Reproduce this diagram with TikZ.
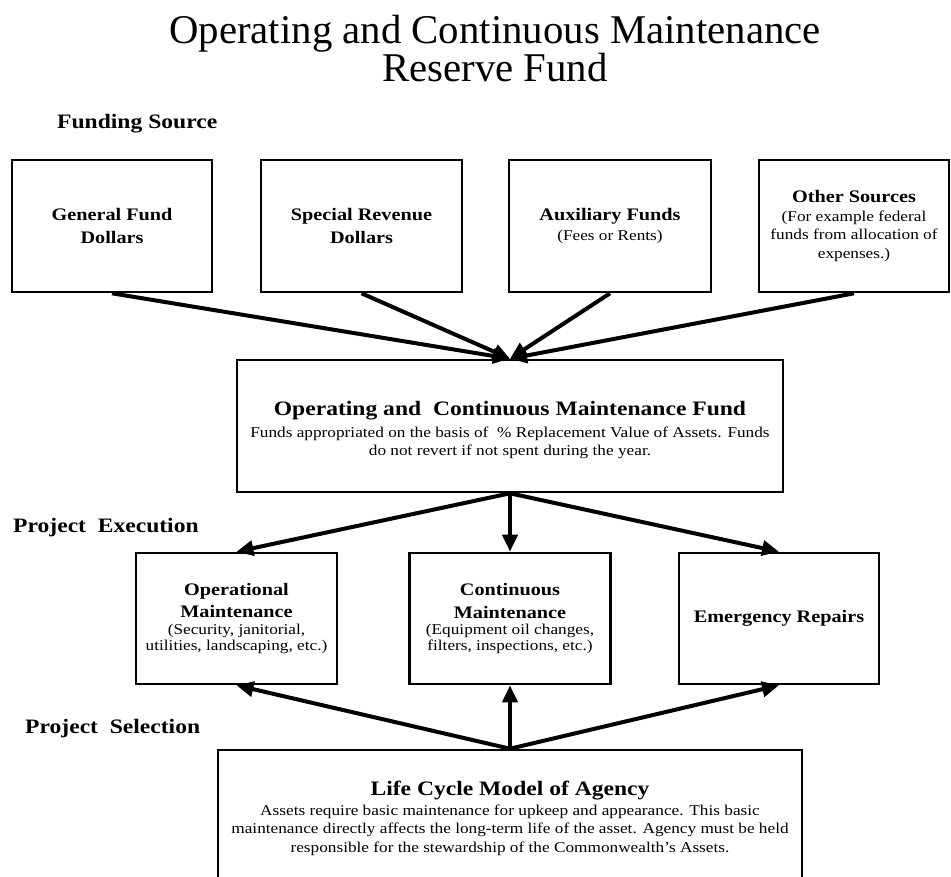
\documentclass[tikz,border=0pt]{standalone}
\usepackage{fontspec}
\setmainfont[FakeStretch=1.15]{Liberation Serif}
\newfontfamily\TitleFam{Liberation Serif}
\usetikzlibrary{arrows.meta}
\newcommand\LblF{\bfseries\fontsize{17.6}{23}\selectfont}
\newcommand\BigF{\bfseries\fontsize{20.5}{24}\selectfont}
\newcommand\BdyF{\fontsize{15}{18.5}\selectfont}
\begin{document}
\begin{tikzpicture}[x=1pt,y=-1pt,
  box/.style={draw, line width=2.6pt, align=center, inner sep=0pt, font=\BdyF},
  txt/.style={align=center, inner sep=0pt, font=\BdyF},
  arr/.style={line width=4pt, -{Triangle[length=17pt,width=15pt]}},
  sec/.style={anchor=base west, inner sep=0pt, font=\BigF},
  ttl/.style={anchor=base, inner sep=0pt, font=\TitleFam\fontsize{40.8}{40}\selectfont}]
\useasboundingbox (0,0) rectangle (951,876);
\clip (0,0) rectangle (951,876);
\fill[white] (0,0) rectangle (951,876);
% title
\node[ttl] (t1) at (495,43) {Operating and Continuous Maintenance};
\node[ttl] (t2) at (495,81) {Reserve Fund};
% section labels
\node[sec] (s1) at (57,128) {Funding Source};
\node[sec] (s2) at (13,532) {Project\ \ Execution};
\node[sec] (s3) at (25,733) {Project\ \ Selection};
% funding boxes
\node[box, minimum width=200, minimum height=132] (g1) at (112,226)
  {{\LblF General Fund}\\[4pt]{\LblF Dollars}};
\node[box, minimum width=201, minimum height=132] (g2) at (361.5,226)
  {{\LblF Special Revenue}\\[4pt]{\LblF Dollars}};
\node[box, minimum width=202, minimum height=132] (g3) at (610,226)
  {{\LblF Auxiliary Funds}\\[1pt](Fees or Rents)};
\node[box, minimum width=190, minimum height=132] (g4) at (854,226)
  {{\LblF Other Sources}\\(For example federal\\funds from allocation of\\expenses.)};
% fund
\node[box, minimum width=546, minimum height=132] (mid) at (510,426) {};
\node[txt] (midT) at ([yshift=-4pt]mid.center)
  {{\BigF Operating and\ \ Continuous Maintenance Fund}\\[3pt]
   Funds appropriated on the basis of\ \ \% Replacement Value of Assets. Funds\\
   do not revert if not spent during the year.};
% execution boxes
\node[box, minimum width=201, minimum height=131] (e1) at (236.5,618.5)
  {{\LblF Operational}\\[4pt]{\LblF Maintenance}\\[-2pt](Security, janitorial,\\[-2.5pt]utilities, landscaping, etc.)};
\node[box, minimum width=201, minimum height=131] (e2) at (510,618.5)
  {{\LblF Continuous}\\[4pt]{\LblF Maintenance}\\[-2pt](Equipment oil changes,\\[-2.5pt]filters, inspections, etc.)};
\node[box, minimum width=200, minimum height=131] (e3) at (779,618.5)
  {{\LblF Emergency Repairs}};
% life cycle
\node[box, minimum width=584, minimum height=130] (life) at (510,815) {};
\node[txt] (lifeT) at ([yshift=-3.5pt]life.center)
  {{\BigF Life Cycle Model of Agency}\\[1pt]
   Assets require basic maintenance for upkeep and appearance. This basic\\
   maintenance directly affects the long-term life of the asset. Agency must be held\\
   responsible for the stewardship of the Commonwealth's Assets.};
% arrows
\draw[arr] (g1.south) -- (mid.north);
\draw[arr] (g2.south) -- (mid.north);
\draw[arr] (g3.south) -- (mid.north);
\draw[arr] (g4.south) -- (mid.north);
\draw[arr] (mid.south) -- (e1.north);
\draw[arr] (mid.south) -- (e2.north);
\draw[arr] (mid.south) -- (e3.north);
\draw[arr] (life.north) -- (e1.south);
\draw[arr] (life.north) -- (e2.south);
\draw[arr] (life.north) -- (e3.south);
\end{tikzpicture}
\end{document}
